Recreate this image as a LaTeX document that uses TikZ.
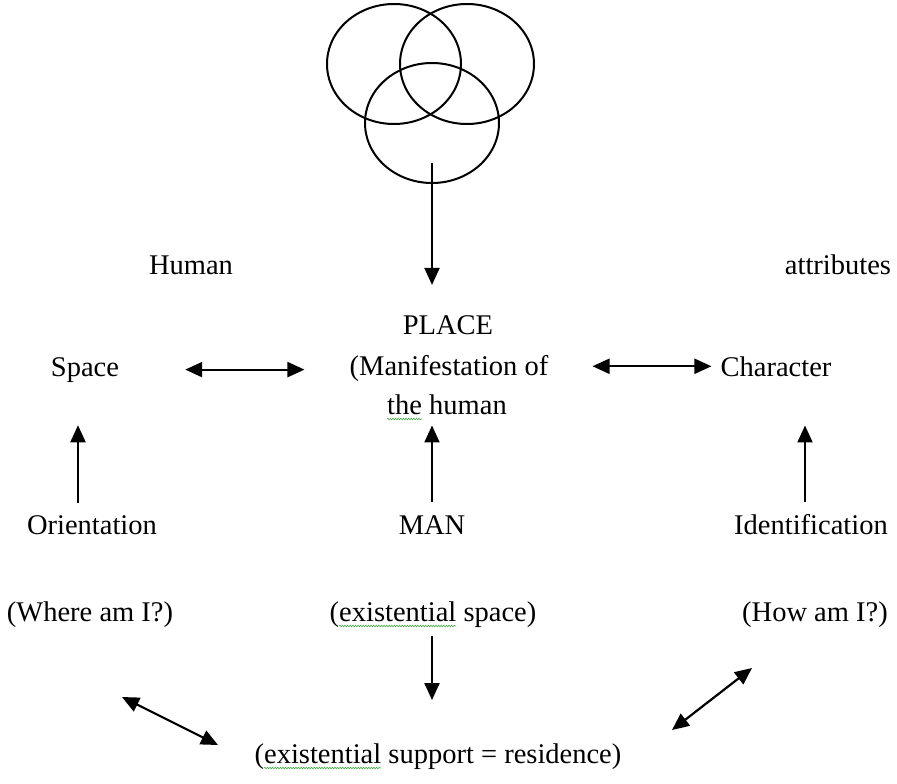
\documentclass[tikz,border=0pt]{standalone}
\usepackage{fontspec}
\setmainfont{Liberation Serif}
\usetikzlibrary{arrows.meta,shapes.geometric,decorations.pathmorphing}
\definecolor{spellgreen}{RGB}{70,170,70}
\newlength\wparen
\newlength\wexist
\newlength\wthe

\begin{document}
\settowidth\wparen{\fontsize{28.5}{40}\selectfont (}
\settowidth\wexist{\fontsize{28.5}{40}\selectfont existential}
\settowidth\wthe{\fontsize{28.5}{40}\selectfont the}
\begin{tikzpicture}[x=1pt,y=-1pt,
  lbl/.style={font=\fontsize{28.5}{40}\selectfont,inner sep=0pt,anchor=base},
  ring/.style={draw,ellipse,line width=2pt,minimum width=134pt,minimum height=120pt,inner sep=0pt},
  arr/.style={-{Triangle[length=17pt,width=15pt]},line width=2.2pt},
  dbl/.style={{Triangle[length=17pt,width=15pt]}-{Triangle[length=17pt,width=15pt]},line width=2.2pt},
  squiggle/.style={spellgreen,line width=0.6pt,decorate,decoration={snake,amplitude=0.8pt,segment length=2.6pt}}]
  \useasboundingbox (0,0) rectangle (897,784);
  % three rings
  \node[ring] (c1) at (394,64) {};
  \node[ring] (c2) at (467,64) {};
  \node[ring] (c3) at (432,123) {};
  \node[lbl] (human) at (191,274) {Human};
  \node[lbl] (attr) at (838,274) {attributes};
  \node[lbl] (place) at (448,334) {PLACE};
  \node[lbl] (placeb) at (449,375) {(Manifestation of};
  \node[lbl] (placec) at (447,414) {the human};
  \node[lbl] (space) at (85,376) {Space};
  \node[lbl] (charac) at (776,376) {Character};
  \node[lbl] (orient) at (92,534) {Orientation};
  \node[lbl] (man) at (432,534) {MAN};
  \node[lbl] (ident) at (811,534) {Identification};
  \node[lbl] (where) at (90,621) {(Where am I?)};
  \node[lbl] (exspace) at (433,621) {(existential space)};
  \node[lbl] (how) at (815,621) {(How am I?)};
  \node[lbl] (support) at (438,763) {(existential support = residence)};
  \coordinate (wl) at (122,697);
  \coordinate (sl) at (218,745);
  \coordinate (hr) at (752,668);
  \coordinate (sr) at (672,730);
  % spelling marks
  \draw[squiggle] ([yshift=-5pt]placec.base west) -- ++(\wthe,0);
  \draw[squiggle] ([xshift=\wparen,yshift=-5pt]exspace.base west) -- ++(\wexist,0);
  \draw[squiggle] ([xshift=\wparen,yshift=-5pt]support.base west) -- ++(\wexist,0);
  % connectors
  \draw[arr,shorten >=30pt] ([yshift=-40pt]c3.center) -- (c3.center |- place.north);
  \draw[dbl,shorten <=66pt,shorten >=45pt] (space.east) -- (space.east -| placeb.west);
  \draw[dbl,shorten <=44pt,shorten >=9pt] (placeb.east |- charac.west) -- (charac.west);
  \draw[arr,shorten <=12pt,shorten >=43pt] ([xshift=-14pt]orient.north) -- ([xshift=-14pt]orient.north |- space.south);
  \draw[arr,shorten <=13pt,shorten >=11pt] (man.north) -- (man.north |- placec.south);
  \draw[arr,shorten <=12pt,shorten >=49pt] ([xshift=-6pt]ident.north) -- ([xshift=-6pt]ident.north |- charac.south);
  \draw[arr,shorten <=9pt,shorten >=43pt] (exspace.south -| man.north) -- (man.north |- support.north);
  \draw[dbl] (wl) -- (sl);
  \draw[dbl] (hr) -- (sr);
\end{tikzpicture}
\end{document}
